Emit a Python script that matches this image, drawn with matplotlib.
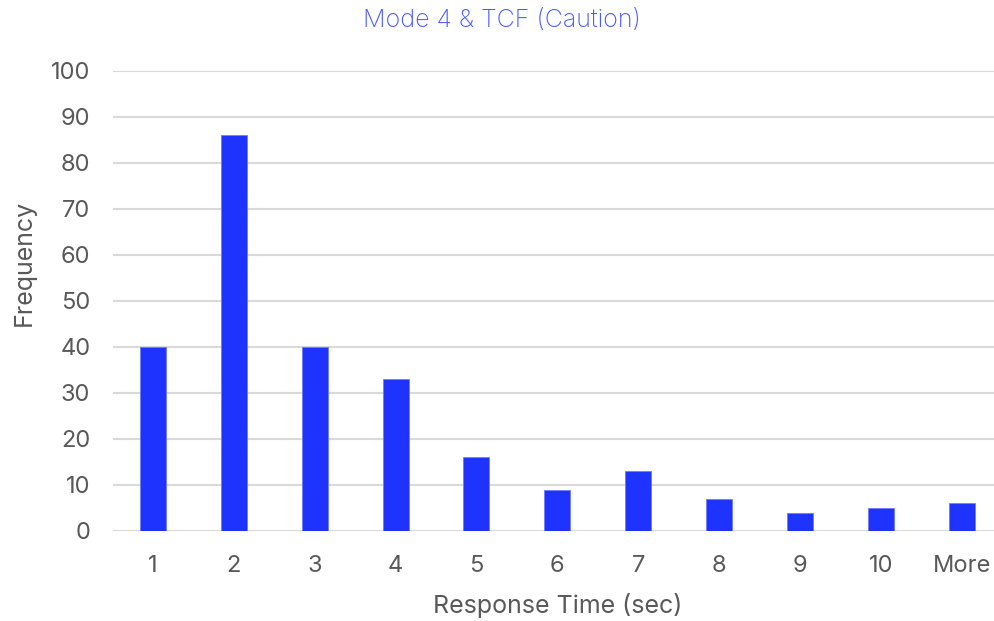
import matplotlib
matplotlib.use("Agg")
from matplotlib import pyplot as plt

categories = ["1", "2", "3", "4", "5", "6", "7", "8", "9", "10", "More"]
frequency = [40, 86, 40, 33, 16, 9, 13, 7, 4, 5, 6]
y_ticks = [0, 10, 20, 30, 40, 50, 60, 70, 80, 90, 100]

plt.rcParams['font.family'] = ['Inter', 'DejaVu Sans']

fig = plt.figure(figsize=(9.95, 6.21), dpi=100)
ax = fig.add_axes([0.1131, 0.145, 0.894, 0.741])

x = list(range(len(categories)))
ax.bar(x, frequency, width=0.32, color='#1f33ff', edgecolor='#6f7cff', linewidth=0.6, zorder=3)

ax.set_xlim(-0.5, len(categories) - 0.5)
ax.set_ylim(0, 100)
ax.set_yticks(y_ticks)
ax.set_xticks(x)
ax.set_xticklabels(categories)
ax.grid(axis='y', color='#d9d9d9', linewidth=1.5, zorder=0)
for s in ax.spines.values():
    s.set_visible(False)
ax.tick_params(length=0, labelsize=17, colors='#595959', pad=17)
ax.tick_params(axis='y', pad=16)

ax.set_xlabel("Response Time (sec)", fontsize=18, color='#595959', labelpad=12)
ax.set_ylabel("Frequency", fontsize=18, color='#595959')
ax.yaxis.set_label_coords(-0.086, 0.583)
# title centred on the figure, not the axes
fig.text(0.504, 0.967, "Mode 4 & TCF (Caution)", fontsize=18, color='#4a5bff',
         fontweight='light', ha='center', va='center')

fig.savefig("out.png", dpi=100)
